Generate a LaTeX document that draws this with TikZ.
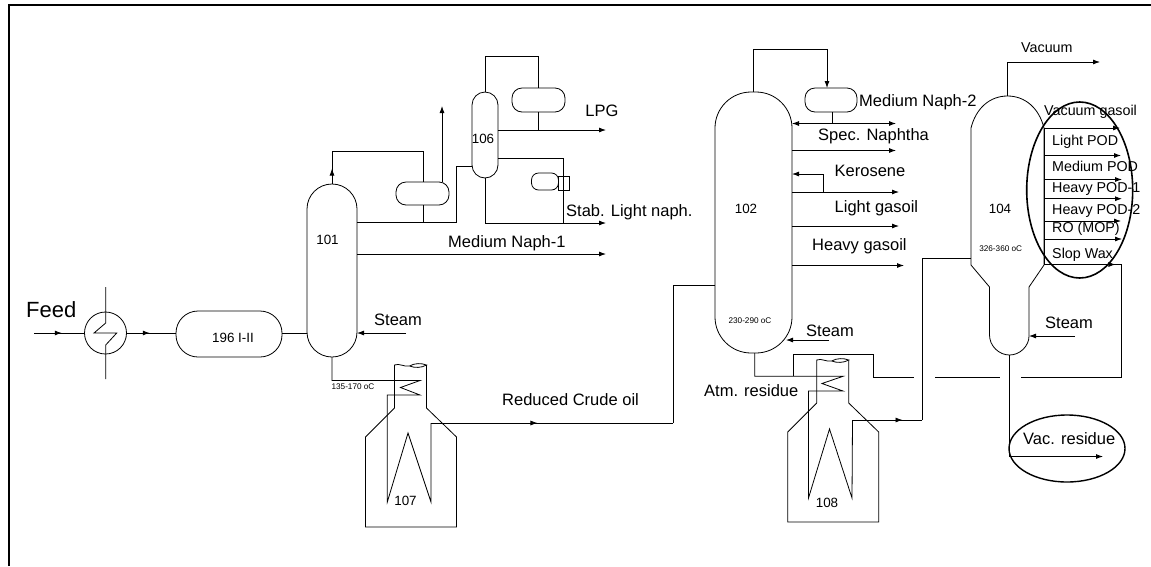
\documentclass[tikz,border=0pt]{standalone}
\usepackage{fontspec}
\setmainfont{Liberation Sans}
\usetikzlibrary{calc, positioning}
\usetikzlibrary{arrows.meta}
\usetikzlibrary{decorations.markings}
\usetikzlibrary{shapes.geometric}

\tikzset{
  line/.style={black,line width=0.8pt},
  flow/.style={line,-{Latex[length=7pt,width=5pt]}},
  midflow/.style={line,postaction={decorate},
    decoration={markings,mark=at position #1 with {\arrow{Latex[length=7pt,width=5pt]}}}},
  vessel/.style={line,draw,inner sep=0pt,outer sep=0pt},
  lbl/.style={inner sep=0pt,font=\fontsize{16.5}{18}\selectfont},
  tag/.style={inner sep=0pt,font=\fontsize{13.4}{15}\selectfont},
  cut/.style={inner sep=0pt,font=\fontsize{14.3}{16}\selectfont},
  temp/.style={inner sep=0pt,font=\fontsize{8.2}{9}\selectfont},
  furnace/.pic={
    \draw[line] (0,43) -- (0,0) .. controls (5,-2) and (9,2) .. (15,1)
      .. controls (20,-2) and (27,-2) .. (32,0) .. controls (27,3) and (20,3) .. (15,1);
    \draw[line] (32,0) -- (32,43) -- (62,72) -- (62,162) -- (-29,162) -- (-29,72) -- (0,43);
  }
}

\begin{document}
\begin{tikzpicture}[x=1pt,y=-1pt]
\useasboundingbox (0,0) rectangle (1151,566);

% Frame
\coordinate (FrameBL) at (8.5,566);
\coordinate (FrameTL) at (8.5,4.5);
\coordinate (FrameTR) at (1151,4.5);
\draw[black,line width=2pt] (FrameBL) -- (FrameTL) -- (FrameTR);

% Vessels
\node[vessel,minimum width=106,minimum height=46,rounded corners=22pt] (D196) at (229,334) {};
\node[vessel,minimum width=50,minimum height=173,rounded corners=25pt] (C101) at (332,270.5) {};
\node[vessel,minimum width=53,minimum height=23,rounded corners=10pt] (D101) at (422.5,193.5) {};
\node[vessel,minimum width=26,minimum height=86,rounded corners=13pt] (C106) at (485,135) {};
\node[vessel,minimum width=53,minimum height=24,rounded corners=10pt] (D106) at (538.5,100) {};
\node[vessel,minimum width=27,minimum height=17,rounded corners=7pt] (R106) at (545,181.5) {};
\node[vessel,minimum width=11,minimum height=14] (B106) at (563.5,183) {};
\node[vessel,minimum width=77,minimum height=261,rounded corners=36pt] (C102) at (753.5,222.5) {};
\node[vessel,minimum width=52,minimum height=24,rounded corners=10pt] (D102) at (831,100) {};
\node[vessel,circle,minimum size=42] (E196) at (105.5,333) {};

% Column 104
\coordinate (C104top) at (1007.5,96);
\coordinate (C104bot) at (1009.5,355);
\coordinate (C104side) at (1044,128);
\coordinate (C104left) at (971,258);
\coordinate (C104low) at (1029,336);
\draw[line] (971,265) -- (971,128) .. controls (976,108) and (990,96) .. (C104top)
  .. controls (1025,96) and (1039,108) .. (C104side) -- (1044,265) -- (1029,287) -- (C104low)
  .. controls (1029,346) and (1020,355) .. (C104bot)
  .. controls (999,355) and (989.5,346) .. (989.5,335) -- (989.5,287) -- cycle;

% Furnaces
\pic at (394.5,365) {furnace};
\pic at (816.7,360) {furnace};

% Feed section
\coordinate (FeedIn) at (34,333);
\coordinate (CoolTop) at (105.7,287);
\coordinate (CoolBot) at (105.7,379);
\draw[midflow=0.55] (FeedIn) -- (E196.west);
\draw[midflow=0.47] (E196.east) -- (D196.west |- E196.east);
\draw[line] (D196.east |- E196.east) -- (C101.west |- E196.east);
\draw[line] (CoolTop) -- (105.7,323) -- (94,333) -- (116.7,333) -- (105.7,345) -- (CoolBot);

% Column 101
\coordinate (Ref101) at (423,151.5);
\coordinate (Off101) at (442,106);
\coordinate (Mid101) at (606,254);
\coordinate (Stm101) at (406,333);
\coordinate (Bot101) at (332,380.5);
\coordinate (Out107) at (431,423);
\coordinate (Rise107) at (673,423);
\draw[midflow=0.1] (C101.north) -- (Ref101 -| C101.north) -- (Ref101) -- (D101.north -| Ref101);
\draw[flow] (D101.north -| Off101) -- (Off101);
\draw[line] (C101.east |- 0,222) -- (456,222) -- (456,166) -- (C106.west |- 0,166);
\draw[line] (D101.south -| Ref101) -- (Ref101 |- 0,222);
\draw[flow] (C101.east |- Mid101) -- (Mid101);
\draw[flow] (Stm101) -- (C101.east |- Stm101);

% Column 106
\coordinate (Top106) at (538,56);
\coordinate (LPG) at (606,130);
\coordinate (Stab) at (606,223);
\coordinate (Bot106) at (563,158);
\draw[line] (C106.north) -- (Top106 -| C106.north) -- (Top106) -- (D106.north -| Top106);
\draw[line] (D106.south -| Top106) -- (Top106 |- LPG);
\draw[flow] (C106.east |- LPG) -- (LPG);
\draw[line] (C106.east |- Bot106) -- (Bot106) -- (Bot106 |- Stab);
\draw[flow] (C106.south) -- (C106.south |- Stab) -- (Stab);

% Furnace 107 coil
\draw[line] (C101.south) -- (Bot101) -- (420,380.5) -- (400.5,387.5) -- (420,395)
  -- (387.3,395) -- (387.3,502) -- (408,433) -- (431,502) -- (Out107);
\draw[midflow=0.44] (Out107) -- (Rise107);
\draw[line] (Rise107) -- (673,285) -- (C102.west |- 0,285);

% Column 102
\coordinate (Top102) at (827,49.5);
\coordinate (Spec) at (896,123.5);
\coordinate (Naph) at (896,150.5);
\coordinate (Kero) at (899,192);
\coordinate (Lgas) at (899,226);
\coordinate (Hgas) at (904,265.5);
\coordinate (Stm102) at (829,340);
\coordinate (Ret102) at (823.5,174);
\draw[flow] (C102.north) -- (Top102 -| C102.north) -- (Top102) -- (D102.north -| Top102);
\draw[line] (D102.south -| 832,0) -- (832,123.5);
\draw[line,{Latex[length=7pt,width=5pt]}-{Latex[length=7pt,width=5pt]}] (C102.east |- Spec) -- (Spec);
\draw[flow] (C102.east |- Naph) -- (Naph);
\draw[flow] (C102.east |- Kero) -- (Kero);
\draw[flow] (Ret102 |- Kero) -- (Ret102) -- (C102.east |- Ret102);
\draw[flow] (C102.east |- Lgas) -- (Lgas);
\draw[flow] (C102.east |- Hgas) -- (Hgas);
\draw[flow] (Stm102) -- (786,340);

% Furnace 108 coil and transfer line
\coordinate (Bot102) at (754.7,376.3);
\coordinate (Out108) at (852.5,420);
\coordinate (Ent104) at (922,420);
\draw[line] (C102.south -| Bot102) -- (Bot102) -- (843,376.3) -- (822,383.5) -- (843,391)
  -- (808.5,391) -- (808.5,498) -- (829.5,429) -- (852,498) -- (Out108);
\draw[midflow=0.72] (Out108) -- (Ent104);
\draw[line] (Ent104) -- (Ent104 |- C104left) -- (C104left);

% Slop wax return
\coordinate (Ret1) at (793,376.3);
\coordinate (Ret2) at (873.5,354.5);
\coordinate (Ret3) at (1121.7,377);
\coordinate (Slop) at (1121.7,264.5);
\draw[line] (Ret1) -- (Ret1 |- Ret2) -- (Ret2) -- (Ret2 |- Ret3) -- (914,377);
\draw[line] (935,377) -- (1000,377);
\draw[line] (1021,377) -- (Ret3) -- (Slop);
\draw[midflow=0.92] (1044,264.5) -- (Slop);

% Column 104 draws
\coordinate (Vac) at (1100,62);
\coordinate (Vres) at (1103,456.5);
\coordinate (Stm104) at (1075,336);
\draw[flow] (C104top) -- (C104top |- Vac) -- (Vac);
\draw[flow] (C104bot) -- (C104bot |- Vres) -- (Vres);
\draw[flow] (Stm104) -- (C104low);
\draw[line] (C104side) -- (1044,264.5);
\draw[flow] (C104side) -- (1120,128);
\draw[flow] (1044,155.5) -- (1121,155.5);
\draw[flow] (1044,179.5) -- (1122,179.5);
\draw[flow] (1044,198.7) -- (1122,198.7);
\draw[flow] (1044,221) -- (1121,221);
\draw[flow] (1044,239) -- (1122,239);

% Highlight ellipses
\node[draw,black,line width=1.6pt,ellipse,minimum width=106,minimum height=176,inner sep=0pt] (HiCut) at (1079.7,190) {};
\node[draw,black,line width=1.4pt,ellipse,minimum width=116,minimum height=67,inner sep=0pt] (HiRes) at (1067,448.5) {};

% Labels
\node[inner sep=0pt,anchor=west,font=\fontsize{22}{24}\selectfont] (LFeed) at (26,310) {Feed};
\node[tag] (L196) at (233,338) {196 I-II};
\node[tag] (L101) at (327.5,240) {101};
\node[tag] (L106) at (483,139) {106};
\node[tag] (L102) at (746,209) {102};
\node[tag] (L104) at (1000,209) {104};
\node[tag] (L107) at (405.5,501) {107};
\node[tag] (L108) at (827,503) {108};
\node[temp] (T101) at (353,387) {135-170 oC};
\node[temp] (T102) at (750,320.7) {230-290 oC};
\node[temp] (T104) at (1000.7,248.7) {326-360 oC};
\node[lbl,anchor=west] (LS101) at (374,320) {Steam};
\node[lbl,anchor=west] (LS102) at (806,331) {Steam};
\node[lbl,anchor=west] (LS104) at (1045,323) {Steam};
\node[lbl] (LLPG) at (602,111) {LPG};
\node[lbl,anchor=west] (LStab) at (566,212) {Stab. Light naph.};
\node[lbl,anchor=west] (LM1) at (448,243) {Medium Naph-1};
\node[lbl,anchor=west] (LRC) at (502,400) {Reduced Crude oil};
\node[lbl,anchor=west] (LM2) at (859,102) {Medium Naph-2};
\node[lbl,anchor=west] (LSN) at (818,136) {Spec. Naphtha};
\node[lbl,anchor=west] (LK) at (834.5,171) {Kerosene};
\node[lbl,anchor=west] (LLG) at (834.5,208) {Light gasoil};
\node[lbl,anchor=west] (LHG) at (812,246) {Heavy gasoil};
\node[lbl,anchor=west] (LAR) at (704,391) {Atm. residue};
\node[lbl,anchor=west] (LVR) at (1023,439) {Vac. residue};
\node[cut,anchor=west] (LVac) at (1021,48) {Vacuum};
\node[cut,anchor=west] (LVG) at (1044,112) {Vacuum gasoil};
\node[cut,anchor=west] (LLP) at (1052,141.5) {Light POD};
\node[cut,anchor=west] (LMP) at (1052,166) {Medium POD};
\node[cut,anchor=west] (LH1) at (1052,189) {Heavy POD-1};
\node[cut,anchor=west] (LH2) at (1052,211) {Heavy POD-2};
\node[cut,anchor=west] (LRO) at (1052,229) {RO (MOP)};
\node[cut,anchor=west] (LSW) at (1052,255) {Slop Wax};
\end{tikzpicture}
\end{document}
